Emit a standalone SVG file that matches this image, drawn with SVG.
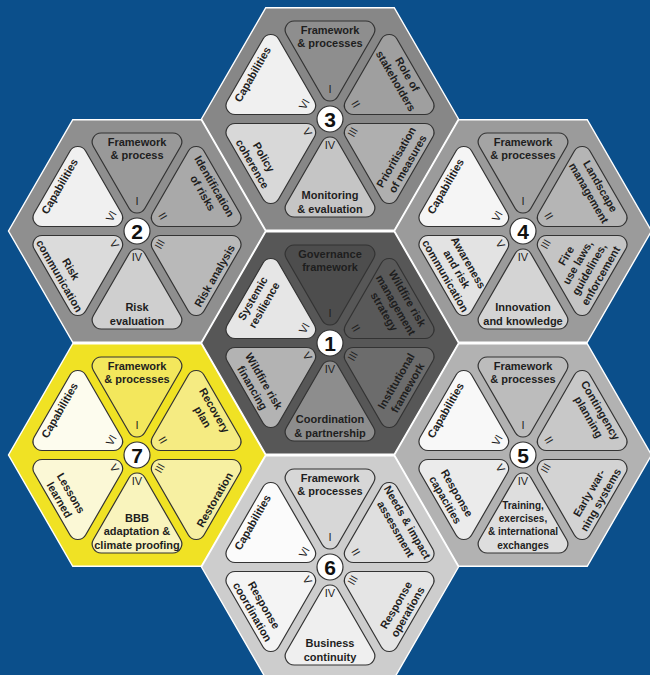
<svg xmlns="http://www.w3.org/2000/svg" xmlns:xlink="http://www.w3.org/1999/xlink" width="650" height="675" viewBox="0 0 650 675">
<style>
.t{font-family:"Liberation Sans",Arial,sans-serif;font-weight:bold;font-size:11px;fill:#1e1e1e;text-anchor:middle}
.t10{font-size:10px}
.n{font-family:"Liberation Sans",Arial,sans-serif;font-size:11px;fill:#1e1e1e;text-anchor:middle}
.cc{fill:#fff;stroke:#333;stroke-width:1.2}
.c{font-family:"Liberation Sans",Arial,sans-serif;font-weight:bold;font-size:21px;fill:#111;text-anchor:middle}
</style>
<defs>
<path id="hx" d="M128.5,0 L64.25,111.28 L-64.25,111.28 L-128.5,0 L-64.25,-111.28 L64.25,-111.28 Z" stroke="#ffffff" stroke-width="1.4"/>
<path id="tri" d="M7.8,-22.51 L43.6,-84.49 A9 9 0 0 0 35.8,-98 L-35.8,-98 A9 9 0 0 0 -43.6,-84.49 L-7.8,-22.51 A9 9 0 0 0 7.8,-22.51 Z" stroke="#333" stroke-width="1.2"/>
</defs>
<rect width="650" height="675" fill="#0b4f8b"/>
<g id="connectors"></g>

<g id="hex3" transform="translate(330,119)">
<use href="#hx" fill="#878787"/>
<use href="#tri" fill="#8e8e8e"/>
<use href="#tri" fill="#9f9f9f" transform="rotate(60)"/>
<use href="#tri" fill="#afafaf" transform="rotate(120)"/>
<use href="#tri" fill="#c5c5c5" transform="rotate(180)"/>
<use href="#tri" fill="#d8d8d8" transform="rotate(240)"/>
<use href="#tri" fill="#f0f0f0" transform="rotate(300)"/>
<circle class="cc" r="13"/><text class="c" y="7.5">3</text>
<g><text class="t" y="-85.5">Framework</text><text class="t" y="-72.2">&amp; processes</text><text class="n" y="-26">I</text></g>
<g transform="rotate(60)"><text class="t" y="-85.5">Role of</text><text class="t" y="-72.2">stakeholders</text><text class="n" y="-26">II</text></g>
<g transform="rotate(-60)"><text class="t" y="80.2">Prioritisation</text><text class="t" y="93.5">of measures</text><text class="n" y="30">III</text></g>
<g><text class="t" y="80.2">Monitoring</text><text class="t" y="93.5">&amp; evaluation</text><text class="n" y="30">IV</text></g>
<g transform="rotate(60)"><text class="t" y="80.2">Policy</text><text class="t" y="93.5">coherence</text><text class="n" y="30">V</text></g>
<g transform="rotate(-60)"><text class="t" y="-85.5">Capabilities</text><text class="n" y="-26">VI</text></g>
</g>

<g id="hex2" transform="translate(137,231)">
<use href="#hx" fill="#8f8f8f"/>
<use href="#tri" fill="#999999"/>
<use href="#tri" fill="#a9a9a9" transform="rotate(60)"/>
<use href="#tri" fill="#b9b9b9" transform="rotate(120)"/>
<use href="#tri" fill="#cfcfcf" transform="rotate(180)"/>
<use href="#tri" fill="#dbdbdb" transform="rotate(240)"/>
<use href="#tri" fill="#f0f0f0" transform="rotate(300)"/>
<circle class="cc" r="13"/><text class="c" y="7.5">2</text>
<g><text class="t" y="-85.5">Framework</text><text class="t" y="-72.2">&amp; process</text><text class="n" y="-26">I</text></g>
<g transform="rotate(60)"><text class="t" y="-85.5">Identification</text><text class="t" y="-72.2">of risks</text><text class="n" y="-26">II</text></g>
<g transform="rotate(-60)"><text class="t" y="93.5">Risk analysis</text><text class="n" y="30">III</text></g>
<g><text class="t" y="80.2">Risk</text><text class="t" y="93.5">evaluation</text><text class="n" y="30">IV</text></g>
<g transform="rotate(60)"><text class="t" y="80.2">Risk</text><text class="t" y="93.5">communication</text><text class="n" y="30">V</text></g>
<g transform="rotate(-60)"><text class="t" y="-85.5">Capabilities</text><text class="n" y="-26">VI</text></g>
</g>

<g id="hex4" transform="translate(523,231)">
<use href="#hx" fill="#9b9b9b"/>
<use href="#tri" fill="#a4a4a4"/>
<use href="#tri" fill="#b5b5b5" transform="rotate(60)"/>
<use href="#tri" fill="#c4c4c4" transform="rotate(120)"/>
<use href="#tri" fill="#d4d4d4" transform="rotate(180)"/>
<use href="#tri" fill="#e3e3e3" transform="rotate(240)"/>
<use href="#tri" fill="#f5f5f5" transform="rotate(300)"/>
<circle class="cc" r="13"/><text class="c" y="7.5">4</text>
<g><text class="t" y="-85.5">Framework</text><text class="t" y="-72.2">&amp; processes</text><text class="n" y="-26">I</text></g>
<g transform="rotate(60)"><text class="t" y="-85.5">Landscape</text><text class="t" y="-72.2">management</text><text class="n" y="-26">II</text></g>
<g transform="rotate(-60)"><text class="t" y="53.6">Fire</text><text class="t" y="66.9">use laws,</text><text class="t" y="80.2">guidelines,</text><text class="t" y="93.5">enforcement</text><text class="n" y="30">III</text></g>
<g><text class="t" y="80.2">Innovation</text><text class="t" y="93.5">and knowledge</text><text class="n" y="30">IV</text></g>
<g transform="rotate(60)"><text class="t" y="66.9">Awareness</text><text class="t" y="80.2">and risk</text><text class="t" y="93.5">communication</text><text class="n" y="30">V</text></g>
<g transform="rotate(-60)"><text class="t" y="-85.5">Capabilities</text><text class="n" y="-26">VI</text></g>
</g>

<g id="hex1" transform="translate(330,343)">
<use href="#hx" fill="#575757"/>
<use href="#tri" fill="#4d4d4d"/>
<use href="#tri" fill="#595959" transform="rotate(60)"/>
<use href="#tri" fill="#6c6c6c" transform="rotate(120)"/>
<use href="#tri" fill="#8d8d8d" transform="rotate(180)"/>
<use href="#tri" fill="#b3b3b3" transform="rotate(240)"/>
<use href="#tri" fill="#e6e6e6" transform="rotate(300)"/>
<circle class="cc" r="13"/><text class="c" y="7.5">1</text>
<g><text class="t" y="-85.5">Governance</text><text class="t" y="-72.2">framework</text><text class="n" y="-26">I</text></g>
<g transform="rotate(60)"><text class="t" y="-85.5">Wildfire risk</text><text class="t" y="-72.2">management</text><text class="t" y="-58.9">strategy</text><text class="n" y="-26">II</text></g>
<g transform="rotate(-60)"><text class="t" y="80.2">Institutional</text><text class="t" y="93.5">framework</text><text class="n" y="30">III</text></g>
<g><text class="t" y="80.2">Coordination</text><text class="t" y="93.5">&amp; partnership</text><text class="n" y="30">IV</text></g>
<g transform="rotate(60)"><text class="t" y="80.2">Wildfire risk</text><text class="t" y="93.5">financing</text><text class="n" y="30">V</text></g>
<g transform="rotate(-60)"><text class="t" y="-85.5">Systemic</text><text class="t" y="-72.2">resilience</text><text class="n" y="-26">VI</text></g>
</g>

<g id="hex7" transform="translate(137,455)">
<use href="#hx" fill="#f0e224"/>
<use href="#tri" fill="#f3e75c"/>
<use href="#tri" fill="#f5eb82" transform="rotate(60)"/>
<use href="#tri" fill="#f7f0a2" transform="rotate(120)"/>
<use href="#tri" fill="#f9f4bd" transform="rotate(180)"/>
<use href="#tri" fill="#fbf8d6" transform="rotate(240)"/>
<use href="#tri" fill="#fdfcee" transform="rotate(300)"/>
<circle class="cc" r="13"/><text class="c" y="7.5">7</text>
<g><text class="t" y="-85.5">Framework</text><text class="t" y="-72.2">&amp; processes</text><text class="n" y="-26">I</text></g>
<g transform="rotate(60)"><text class="t" y="-85.5">Recovery</text><text class="t" y="-72.2">plan</text><text class="n" y="-26">II</text></g>
<g transform="rotate(-60)"><text class="t" y="93.5">Restoration</text><text class="n" y="30">III</text></g>
<g><text class="t" y="66.9">BBB</text><text class="t" y="80.2">adaptation &amp;</text><text class="t" y="93.5">climate proofing</text><text class="n" y="30">IV</text></g>
<g transform="rotate(60)"><text class="t" y="80.2">Lessons</text><text class="t" y="93.5">learned</text><text class="n" y="30">V</text></g>
<g transform="rotate(-60)"><text class="t" y="-85.5">Capabilities</text><text class="n" y="-26">VI</text></g>
</g>

<g id="hex5" transform="translate(523,455)">
<use href="#hx" fill="#b2b2b2"/>
<use href="#tri" fill="#bcbcbc"/>
<use href="#tri" fill="#c8c8c8" transform="rotate(60)"/>
<use href="#tri" fill="#d3d3d3" transform="rotate(120)"/>
<use href="#tri" fill="#dedede" transform="rotate(180)"/>
<use href="#tri" fill="#ebebeb" transform="rotate(240)"/>
<use href="#tri" fill="#f8f8f8" transform="rotate(300)"/>
<circle class="cc" r="13"/><text class="c" y="7.5">5</text>
<g><text class="t" y="-85.5">Framework</text><text class="t" y="-72.2">&amp; processes</text><text class="n" y="-26">I</text></g>
<g transform="rotate(60)"><text class="t" y="-85.5">Contingency</text><text class="t" y="-72.2">planning</text><text class="n" y="-26">II</text></g>
<g transform="rotate(-60)"><text class="t" y="80.2">Early war-</text><text class="t" y="93.5">ning systems</text><text class="n" y="30">III</text></g>
<g><text class="t t10" y="53.6">Training,</text><text class="t t10" y="66.9">exercises,</text><text class="t t10" y="80.2">&amp; international</text><text class="t t10" y="93.5">exchanges</text><text class="n" y="30">IV</text></g>
<g transform="rotate(60)"><text class="t" y="80.2">Response</text><text class="t" y="93.5">capacities</text><text class="n" y="30">V</text></g>
<g transform="rotate(-60)"><text class="t" y="-85.5">Capabilities</text><text class="n" y="-26">VI</text></g>
</g>

<g id="hex6" transform="translate(330,567)">
<use href="#hx" fill="#cdcdcd"/>
<use href="#tri" fill="#d7d7d7"/>
<use href="#tri" fill="#dfdfdf" transform="rotate(60)"/>
<use href="#tri" fill="#e5e5e5" transform="rotate(120)"/>
<use href="#tri" fill="#efefef" transform="rotate(180)"/>
<use href="#tri" fill="#f4f4f4" transform="rotate(240)"/>
<use href="#tri" fill="#fbfbfb" transform="rotate(300)"/>
<circle class="cc" r="13"/><text class="c" y="7.5">6</text>
<g><text class="t" y="-85.5">Framework</text><text class="t" y="-72.2">&amp; processes</text><text class="n" y="-26">I</text></g>
<g transform="rotate(60)"><text class="t" y="-85.5">Needs &amp; impact</text><text class="t" y="-72.2">assessment</text><text class="n" y="-26">II</text></g>
<g transform="rotate(-60)"><text class="t" y="80.2">Response</text><text class="t" y="93.5">operations</text><text class="n" y="30">III</text></g>
<g><text class="t" y="80.2">Business</text><text class="t" y="93.5">continuity</text><text class="n" y="30">IV</text></g>
<g transform="rotate(60)"><text class="t" y="80.2">Response</text><text class="t" y="93.5">coordination</text><text class="n" y="30">V</text></g>
<g transform="rotate(-60)"><text class="t" y="-85.5">Capabilities</text><text class="n" y="-26">VI</text></g>
</g>
</svg>
